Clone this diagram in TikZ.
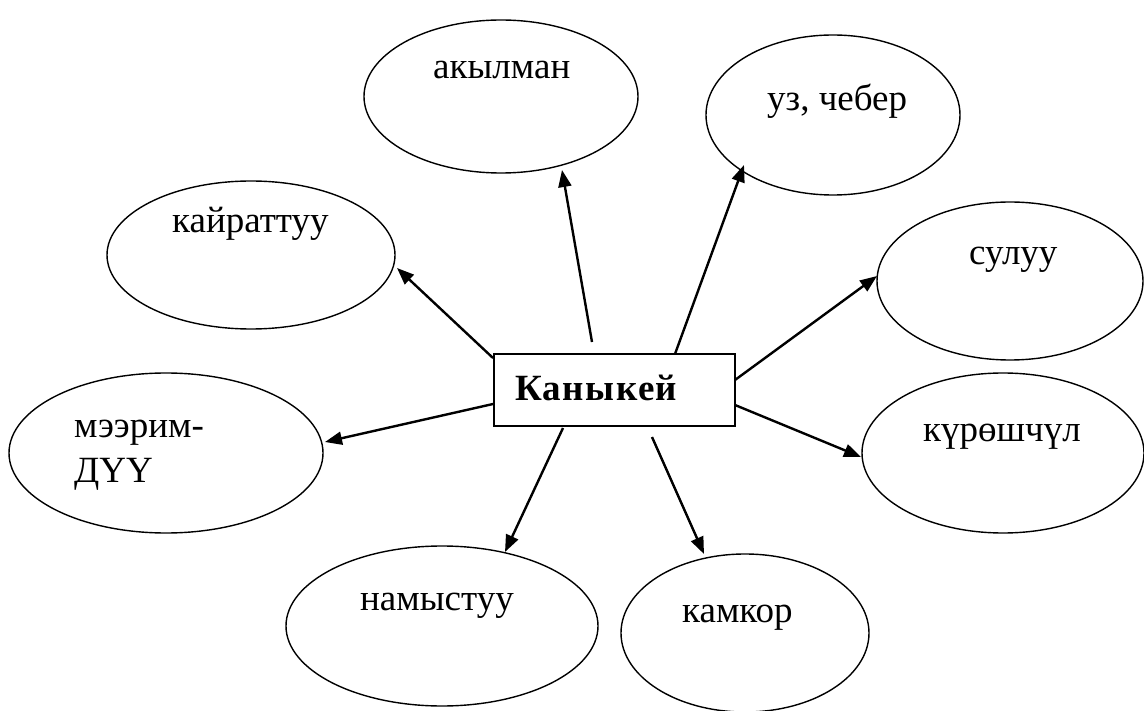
\documentclass[tikz,border=0pt]{standalone}
\usepackage{fontspec}
\setmainfont{Liberation Serif}
\usetikzlibrary{shapes.geometric,arrows.meta}
\tikzset{
  ell/.style={draw, ellipse, line width=1.4pt, inner sep=0pt},
  lbl/.style={anchor=base west, inner sep=0pt, font=\fontsize{37}{44}\selectfont},
  arr/.style={line width=2.4pt, -{Triangle[length=17pt,width=13pt]}},
}
\begin{document}
\begin{tikzpicture}[x=1pt,y=-1pt]
\useasboundingbox (0,0) rectangle (1144,711);
% ellipses
\node[ell, minimum width=274pt, minimum height=153pt] (e1) at (501,96.5) {};
\node[ell, minimum width=254pt, minimum height=160pt] (e2) at (833,115) {};
\node[ell, minimum width=288pt, minimum height=148pt] (e3) at (251,255) {};
\node[ell, minimum width=266pt, minimum height=158pt] (e4) at (1010,281) {};
\node[ell, minimum width=314pt, minimum height=160pt] (e5) at (166,453) {};
\node[ell, minimum width=282pt, minimum height=160pt] (e6) at (1003,453) {};
\node[ell, minimum width=312pt, minimum height=160pt] (e7) at (442,626) {};
\node[ell, minimum width=248pt, minimum height=158pt] (e8) at (745,633) {};
% labels
\node[lbl] (t1) at (433,79) {акылман};
\node[lbl] (t2) at (767,111) {уз, чебер};
\node[lbl] (t3) at (172,233) {кайраттуу};
\node[lbl] (t4) at (969,265) {сулуу};
\node[lbl] (t5a) at (74,437) {мээрим-};
\node[lbl] (t5b) at (74,482) {ДҮҮ};
\node[lbl] (t6) at (923,442) {күрөшчүл};
\node[lbl] (t7) at (360,610) {намыстуу};
\node[lbl] (t8) at (682,622) {камкор};
% centre box
\node[draw, line width=1.6pt, minimum width=241pt, minimum height=72pt, inner sep=0pt] (box) at (614.5,390) {};
\node[anchor=base west, inner sep=0pt, font=\fontsize{37}{44}\selectfont\bfseries\addfontfeatures{LetterSpace=4}] (center) at (515,400) {Каныкей};
% arrow ends
\coordinate (s1) at (592,342); \coordinate (p1) at (562,170);
\coordinate (s2) at (675,354); \coordinate (p2) at (744,165);
\coordinate (s3) at (493,358); \coordinate (p3) at (397,268);
\coordinate (s4) at (735,380); \coordinate (p4) at (877,276);
\coordinate (s5) at (493,404); \coordinate (p5) at (325,442);
\coordinate (s6) at (735,405); \coordinate (p6) at (861,457);
\coordinate (s7) at (563,428); \coordinate (p7) at (505,552);
\coordinate (s8) at (652,437); \coordinate (p8) at (704,554);
\foreach \i in {1,...,8} \draw[arr] (s\i) -- (p\i);
\end{tikzpicture}
\end{document}
